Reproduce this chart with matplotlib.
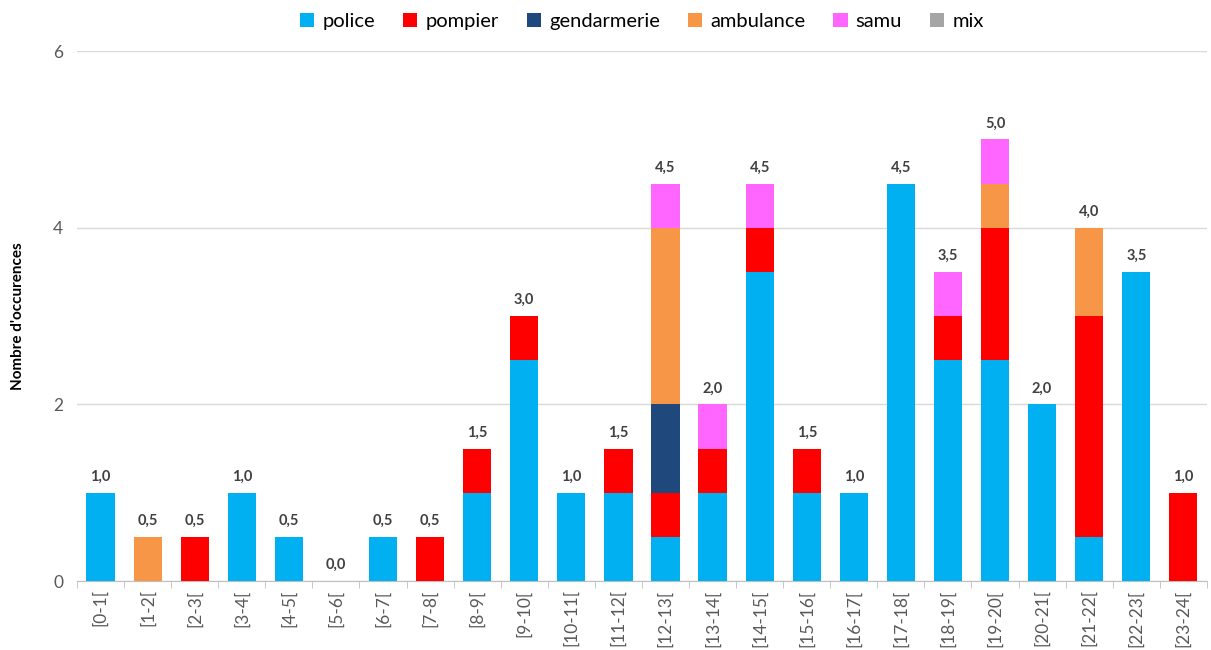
import numpy as np
import matplotlib
matplotlib.use("Agg")
from matplotlib import pyplot as plt

plt.rcParams['font.family'] = ['Lato', 'DejaVu Sans']

categories = ['[0-1[', '[1-2[', '[2-3[', '[3-4[', '[4-5[', '[5-6[', '[6-7[', '[7-8[',
              '[8-9[', '[9-10[', '[10-11[', '[11-12[', '[12-13[', '[13-14[', '[14-15[',
              '[15-16[', '[16-17[', '[17-18[', '[18-19[', '[19-20[', '[20-21[',
              '[21-22[', '[22-23[', '[23-24[']

police = [1, 0, 0, 1, 0.5, 0, 0.5, 0, 1, 2.5, 1, 1, 0.5, 1, 3.5, 1, 1, 4.5, 2.5, 2.5, 2, 0.5, 3.5, 0]
pompier = [0, 0, 0.5, 0, 0, 0, 0, 0.5, 0.5, 0.5, 0, 0.5, 0.5, 0.5, 0.5, 0.5, 0, 0, 0.5, 1.5, 0, 2.5, 0, 1]
gendarmerie = [0, 0, 0, 0, 0, 0, 0, 0, 0, 0, 0, 0, 1, 0, 0, 0, 0, 0, 0, 0, 0, 0, 0, 0]
ambulance = [0, 0.5, 0, 0, 0, 0, 0, 0, 0, 0, 0, 0, 2, 0, 0, 0, 0, 0, 0, 0.5, 0, 1, 0, 0]
samu = [0, 0, 0, 0, 0, 0, 0, 0, 0, 0, 0, 0, 0.5, 0.5, 0.5, 0, 0, 0, 0.5, 0.5, 0, 0, 0, 0]
mix = [0] * 24

series = [('police', police, '#00b0f0'),
          ('pompier', pompier, '#ff0000'),
          ('gendarmerie', gendarmerie, '#1f497d'),
          ('ambulance', ambulance, '#f79646'),
          ('samu', samu, '#ff66ff'),
          ('mix', mix, '#a5a5a5')]

fig = plt.figure(figsize=(12.11, 6.5), dpi=100)
ax = fig.add_axes([0.0636, 0.106, 0.933, 0.8155])

x = np.arange(len(categories))
bottom = np.zeros(len(categories))
for name, vals, color in series:
    vals = np.array(vals, dtype=float)
    ax.bar(x, vals, 0.6, bottom=bottom, color=color, label=name, zorder=3)
    bottom += vals

# totals above bars
for i, tot in enumerate(bottom):
    ax.text(i, tot + 0.1, ('%.1f' % tot).replace('.', ','), ha='center', va='bottom',
            fontsize=10.5, fontweight='bold', color='#404040')

ax.set_xlim(-0.5, len(categories) - 0.5)
ax.set_ylim(0, 6)
ax.set_yticks([0, 2, 4, 6])
ax.yaxis.grid(True, color='#d9d9d9', linewidth=1, zorder=0)
ax.tick_params(axis='y', length=0, labelsize=12.5, labelcolor='#595959', pad=10)

ax.set_xticks(x)
ax.set_xticklabels(categories, rotation=90, fontsize=12.5, color='#595959')
ax.set_xticks(np.arange(-0.5, len(categories)), minor=True)
ax.tick_params(axis='x', which='major', length=0, pad=6)
ax.tick_params(axis='x', which='minor', length=5, color='#bfbfbf')

for s in ['top', 'right', 'left']:
    ax.spines[s].set_visible(False)
ax.spines['bottom'].set_color('#bfbfbf')

ax.set_ylabel("Nombre d'occurences", fontsize=11, fontweight='bold', labelpad=20)

ax.legend(loc='center', bbox_to_anchor=(0.5, 1.055), ncol=6, frameon=False,
          fontsize=14.5, handlelength=0.7, handleheight=0.7, handletextpad=0.4,
          columnspacing=1.4)

fig.savefig('out.png', dpi=100)
